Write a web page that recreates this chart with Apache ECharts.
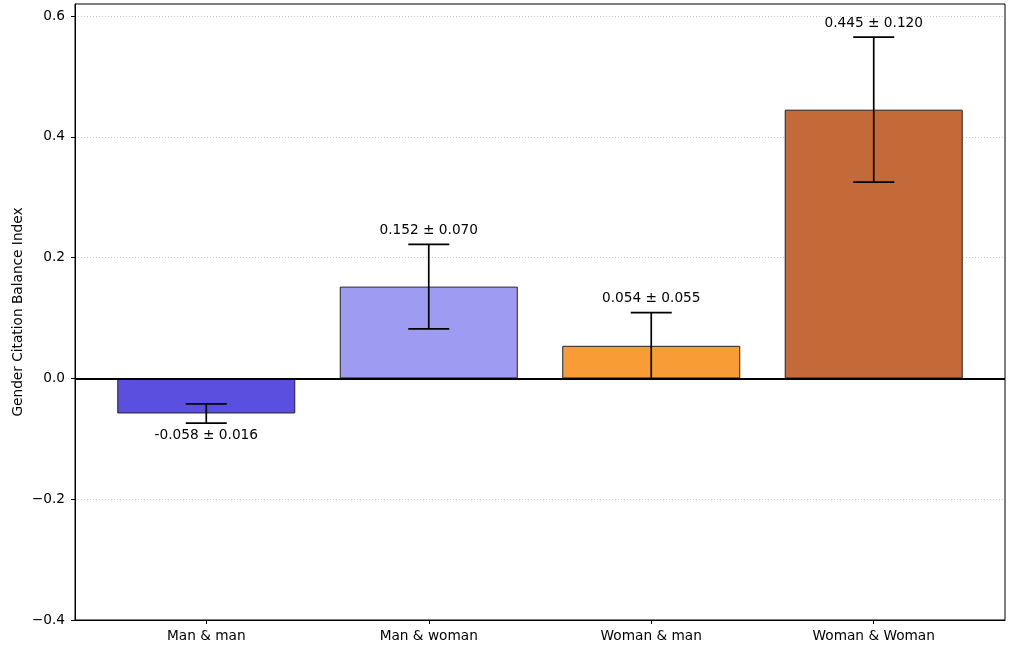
<!DOCTYPE html>
<html>
<head>
<meta charset="utf-8">
<script src="https://cdn.jsdelivr.net/npm/echarts@6/dist/echarts.min.js"></script>
<style>html,body{margin:0;padding:0;background:#fff}#c{width:1019px;height:650px}</style>
</head>
<body>
<div id="c"></div>
<script>
var categories = ['Man & man', 'Man & woman', 'Woman & man', 'Woman & Woman'];
var means = [-0.058, 0.152, 0.054, 0.445];
var errors = [0.016, 0.070, 0.055, 0.120];
var barColors = ['#5b4fe0', '#9d9cf2', '#f89c36', '#c46a38'];
var yTicks = [-0.4, -0.2, 0.0, 0.2, 0.4, 0.6];
var xTicks = [0, 1, 2, 3];

var FONT = 'DejaVu Sans';
var FS = 13.7;
var chart = echarts.init(document.getElementById('c'), null, {renderer: 'canvas'});

function fmtY(v) {
  var s = Math.abs(v).toFixed(1);
  return (v < -1e-9 ? '\u2212' : '') + s;
}

chart.setOption({
  animation: false,
  backgroundColor: '#fff',
  grid: {left: 75, right: 14, top: 4, bottom: 30, show: true, borderColor: '#000', borderWidth: 1,
    backgroundColor: 'transparent', containLabel: false, outerBoundsMode: 'none'},
  xAxis: {
    type: 'value', min: -0.59, max: 3.59,
    axisLine: {show: true, onZero: false, lineStyle: {color: '#000', width: 1}},
    axisTick: {show: true, customValues: xTicks, length: 4, lineStyle: {color: '#000'}},
    axisLabel: {show: true, customValues: xTicks, margin: 9, color: '#000', fontFamily: FONT, fontSize: FS,
      formatter: function (v) { return categories[Math.round(v)]; }},
    splitLine: {show: false}
  },
  yAxis: {
    type: 'value', min: -0.4, max: 0.62,
    name: 'Gender Citation Balance Index', nameLocation: 'middle', nameGap: 50, nameRotate: 90,
    nameMoveOverlap: false,
    nameTextStyle: {color: '#000', fontFamily: FONT, fontSize: FS},
    axisLine: {show: true, onZero: false, lineStyle: {color: '#000', width: 1}},
    axisTick: {show: true, customValues: yTicks, length: 4, lineStyle: {color: '#000'}},
    axisLabel: {show: true, customValues: yTicks, margin: 10, color: '#000', fontFamily: FONT, fontSize: FS, formatter: fmtY},
    splitLine: {show: true, lineStyle: {color: '#bbb', type: [1, 2], width: 0.8}}
  },
  series: [
    {
      type: 'bar',
      barWidth: 178,
      data: means.map(function (v, i) {
        return {value: [i, v], itemStyle: {color: barColors[i], borderColor: '#222', borderWidth: 1}};
      }),
      markLine: {
        silent: true, symbol: 'none', label: {show: false},
        lineStyle: {color: '#000', width: 1.8, type: 'solid'},
        data: [{yAxis: 0}]
      },
      z: 2
    },
    {
      type: 'custom',
      z: 5,
      data: means.map(function (v, i) { return [i, v, errors[i]]; }),
      renderItem: function (params, api) {
        var x = api.value(0), m = api.value(1), e = api.value(2);
        var top = api.coord([x, m + e]);
        var bot = api.coord([x, m - e]);
        var cap = 20.5;
        var st = {stroke: '#000', lineWidth: 1.7};
        var labelText = m.toFixed(3) + ' \u00b1 ' + e.toFixed(3);
        var label;
        if (m >= 0) {
          label = {type: 'text', style: {x: top[0], y: top[1] - 14, text: labelText, fill: '#000',
            font: FS + 'px "' + FONT + '"', align: 'center', verticalAlign: 'middle'}};
        } else {
          label = {type: 'text', style: {x: bot[0], y: bot[1] + 12.5, text: labelText, fill: '#000',
            font: FS + 'px "' + FONT + '"', align: 'center', verticalAlign: 'middle'}};
        }
        return {
          type: 'group',
          children: [
            {type: 'line', shape: {x1: top[0], y1: top[1], x2: bot[0], y2: bot[1]}, style: st},
            {type: 'line', shape: {x1: top[0] - cap, y1: top[1], x2: top[0] + cap, y2: top[1]}, style: st},
            {type: 'line', shape: {x1: bot[0] - cap, y1: bot[1], x2: bot[0] + cap, y2: bot[1]}, style: st},
            label
          ]
        };
      }
    }
  ]
});
</script>
</body>
</html>
